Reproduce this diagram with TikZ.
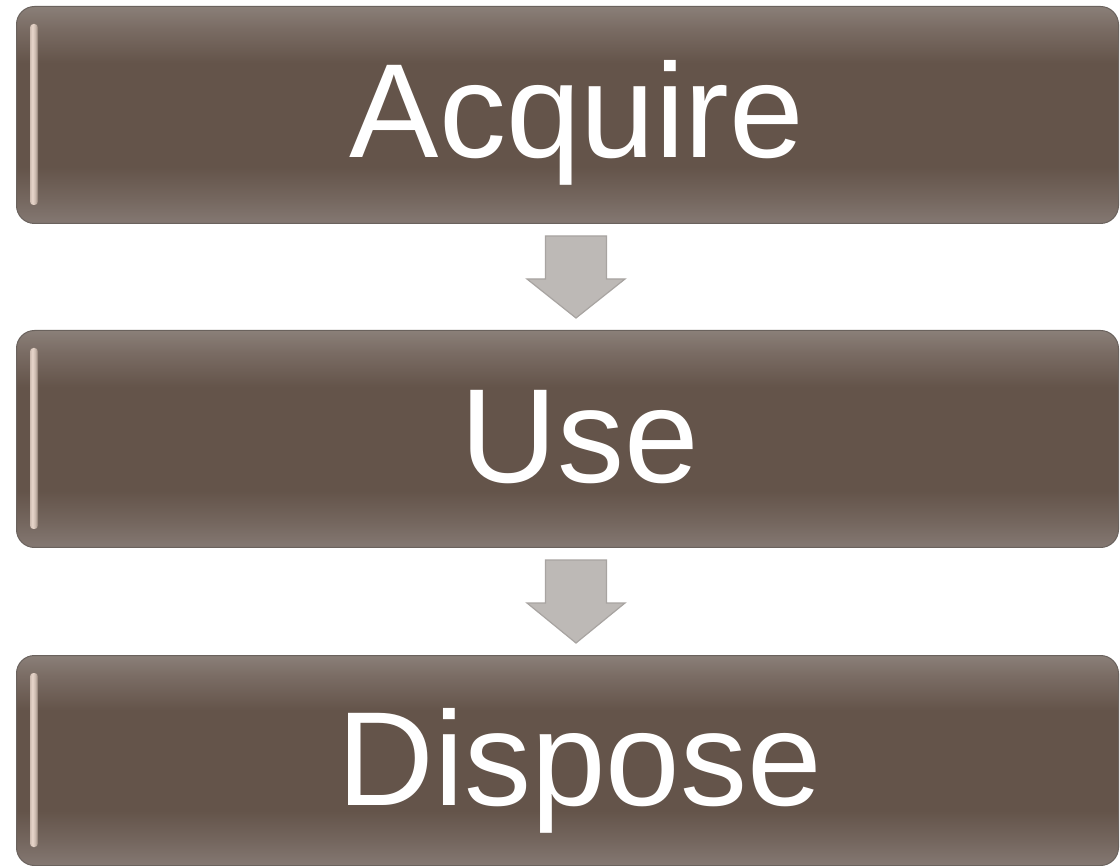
\documentclass[tikz,border=0pt]{standalone}
\usepackage{fontspec}
\setmainfont{Liberation Sans}
\usetikzlibrary{calc}
\definecolor{boxtop}{HTML}{8A7F78}
\definecolor{boxhi}{HTML}{7A6C64}
\definecolor{boxmid}{HTML}{64544A}
\definecolor{boxlow}{HTML}{74665E}
\definecolor{boxbot}{HTML}{847872}
\definecolor{boxedge}{HTML}{6A625D}
\definecolor{hlcol}{HTML}{E8D6CB}
\definecolor{arrfill}{HTML}{BDB9B6}
\definecolor{arredge}{HTML}{A8A4A1}
\pgfdeclareverticalshading{boxshade}{100bp}{color(0bp)=(boxbot); color(25bp)=(boxbot); color(31bp)=(boxlow); color(38bp)=(boxmid); color(62bp)=(boxmid); color(70bp)=(boxhi); color(75bp)=(boxtop); color(100bp)=(boxtop)}
\pgfdeclarehorizontalshading{hlshade}{100bp}{color(0bp)=(hlcol); color(25bp)=(hlcol!80!boxmid); color(40bp)=(hlcol); color(60bp)=(hlcol!75!boxmid); color(75bp)=(boxmid!75!hlcol); color(100bp)=(boxmid!75!hlcol)}
\begin{document}
\begin{tikzpicture}[x=1pt,y=-1pt,
  stagebox/.style={draw=boxedge, line width=1pt, rounded corners=18pt, shading=boxshade,
    minimum width=1102pt, inner sep=0pt, anchor=north west},
  lbl/.style={text=white, font=\fontsize{134}{134}\selectfont, inner sep=0pt, anchor=base},
  hl/.style={shading=hlshade, rounded corners=3.5pt},
  blk/.style={fill=arrfill, draw=arredge, line width=1.2pt, line join=miter}]
\useasboundingbox (0,0) rectangle (1120,866);
\clip (0,0) rectangle (1120,866);
\fill[white] (0,0) rectangle (1120,866);
\node[stagebox, minimum height=217pt] (a) at (16,6) {};
\node[stagebox, minimum height=217pt] (b) at (16,330) {};
\node[stagebox, minimum height=210pt] (c) at (16,655) {};
\foreach \n in {a,b,c}{
  \shade[hl] ($(\n.north west)+(14,18)$) rectangle ($(\n.south west)+(22,-19)$);
}
\node[lbl] (ta) at (577,158) {Acquire};
\node[lbl] (tb) at (580,483) {Use};
\node[lbl] (tc) at (580,805) {Dispose};
\coordinate (cx) at (576,0);
\coordinate (t1) at ($(a.south -| cx)+(0,12)$);
\coordinate (e1) at ($(b.north -| cx)+(0,-12)$);
\coordinate (t2) at ($(b.south -| cx)+(0,12)$);
\coordinate (e2) at ($(c.north -| cx)+(0,-12)$);
\foreach \t/\e in {t1/e1,t2/e2}{
  \draw[blk] ($(\t)+(-30.5,0)$) -- ($(\t)+(30.5,0)$) -- ($(\t)+(30.5,43)$) -- ($(\t)+(49,43)$)
    -- (\e) -- ($(\t)+(-49,43)$) -- ($(\t)+(-30.5,43)$) -- cycle;
}
\end{tikzpicture}
\end{document}
